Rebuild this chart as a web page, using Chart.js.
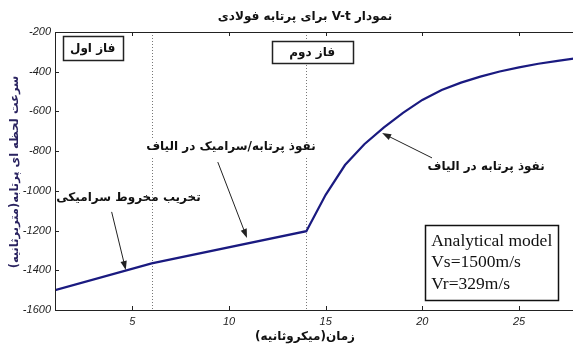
<!DOCTYPE html>
<html>
<head>
<meta charset="utf-8">
<script src="https://cdn.jsdelivr.net/npm/chart.js@4/dist/chart.umd.min.js"></script>
<style>
  html, body { margin: 0; padding: 0; background: #fff; overflow: hidden; }
  canvas { display: block; }
</style>
</head>
<body>
<canvas id="c" width="578" height="349"></canvas>
<script>
// Time (microseconds) and projectile velocity (m/s)
const times = [1, 6, 14, 15, 16, 17, 18, 19, 20, 21, 22, 23, 24, 25, 26, 27, 28];
const velocity = [-1500, -1365, -1203, -1020, -870, -765, -682, -607, -542, -492, -455, -425, -399, -378, -360, -345, -332];

const xTicks = [5, 10, 15, 20, 25];
const yTicks = [-1600, -1400, -1200, -1000, -800, -600, -400, -200];

// Phase boundaries (microseconds)
const phaseBounds = [6, 14];

const titleText = 'نمودار V-t برای پرتابه فولادی';
const xTitle = 'زمان(میکروثانیه)';
const yTitle = 'سرعت لحظه ای پرتابه(متربرثانیه)';

// Phase boxes: label, x range, y range (data units)
const phaseBoxes = [
  { text: 'فاز اول', x0: 1.4, x1: 4.5, y0: -220, y1: -340 },
  { text: 'فاز دوم', x0: 12.2, x1: 16.4, y0: -245, y1: -356 }
];

// Callouts: label position and arrow from -> to (data units)
const callouts = [
  { text: 'تخریب مخروط سرامیکی', tx: 4.8, ty: -1036, fx: 3.93, fy: -1106, ax: 4.66, ay: -1398, bg: false },
  { text: 'نفوذ پرتابه/سرامیک در الیاف', tx: 10.1, ty: -779, fx: 9.42, fy: -855, ax: 10.93, ay: -1237, bg: true },
  { text: 'نفوذ پرتابه در الیاف', tx: 23.3, ty: -880, fx: 20.5, fy: -834, ax: 17.92, ay: -709, bg: false }
];

const modelLines = ['Analytical model', 'Vs=1500m/s', 'Vr=329m/s'];
const modelBox = { x0: 20.15, x1: 27.05, y0: -1172, y1: -1549 };

const arabicFont = '"DejaVu Sans", sans-serif';

function arrow(ctx, x1, y1, x2, y2) {
  const ang = Math.atan2(y2 - y1, x2 - x1);
  const len = 9, w = 3.2;
  ctx.beginPath();
  ctx.moveTo(x1, y1);
  ctx.lineTo(x2 - Math.cos(ang) * len * 0.8, y2 - Math.sin(ang) * len * 0.8);
  ctx.stroke();
  ctx.beginPath();
  ctx.moveTo(x2, y2);
  ctx.lineTo(x2 - Math.cos(ang) * len + Math.sin(ang) * w, y2 - Math.sin(ang) * len - Math.cos(ang) * w);
  ctx.lineTo(x2 - Math.cos(ang) * len - Math.sin(ang) * w, y2 - Math.sin(ang) * len + Math.cos(ang) * w);
  ctx.closePath();
  ctx.fill();
}

const decor = {
  id: 'decor',
  beforeDatasetsDraw(chart) {
    const { ctx, chartArea: a, scales: { x } } = chart;
    ctx.save();
    ctx.strokeStyle = '#777';
    ctx.lineWidth = 1;
    ctx.setLineDash([1, 2]);
    phaseBounds.forEach(v => {
      const px = Math.round(x.getPixelForValue(v)) + 0.5;
      ctx.beginPath();
      ctx.moveTo(px, a.top);
      ctx.lineTo(px, a.bottom);
      ctx.stroke();
    });
    ctx.restore();
  },
  afterDraw(chart) {
    const { ctx, chartArea: a, scales: { x, y } } = chart;
    ctx.save();

    // frame
    ctx.strokeStyle = '#222';
    ctx.lineWidth = 1;
    ctx.strokeRect(a.left + 0.5, a.top + 0.5, a.right - a.left - 1, a.bottom - a.top);

    // inward tick marks on all four sides
    ctx.beginPath();
    const tl = 4;
    xTicks.forEach(v => {
      const px = Math.round(x.getPixelForValue(v)) + 0.5;
      ctx.moveTo(px, a.bottom); ctx.lineTo(px, a.bottom - tl);
      ctx.moveTo(px, a.top); ctx.lineTo(px, a.top + tl);
    });
    yTicks.forEach(v => {
      const py = Math.round(y.getPixelForValue(v)) + 0.5;
      ctx.moveTo(a.left, py); ctx.lineTo(a.left + tl, py);
      ctx.moveTo(a.right, py); ctx.lineTo(a.right - tl, py);
    });
    ctx.stroke();

    // title
    ctx.fillStyle = '#111';
    ctx.direction = 'rtl';
    ctx.textAlign = 'center';
    ctx.textBaseline = 'middle';
    ctx.font = 'bold 12px ' + arabicFont;
    ctx.fillText(titleText, 305, 17);

    // axis titles
    ctx.font = 'bold 12px ' + arabicFont;
    ctx.fillText(xTitle, 305, 337);
    ctx.save();
    ctx.translate(15, (a.top + a.bottom) / 2 + 1);
    ctx.rotate(-Math.PI / 2);
    ctx.fillStyle = '#2a2360';
    ctx.font = 'bold 11.5px ' + arabicFont;
    ctx.fillText(yTitle, 0, 0);
    ctx.restore();

    // phase boxes
    phaseBoxes.forEach(b => {
      const x0 = x.getPixelForValue(b.x0), x1 = x.getPixelForValue(b.x1);
      const y0 = y.getPixelForValue(b.y0), y1 = y.getPixelForValue(b.y1);
      ctx.fillStyle = '#fff';
      ctx.fillRect(x0, y0, x1 - x0, y1 - y0);
      ctx.strokeStyle = '#222';
      ctx.lineWidth = 1.5;
      ctx.strokeRect(Math.round(x0) + 0.5, Math.round(y0) + 0.5, Math.round(x1 - x0), Math.round(y1 - y0));
      ctx.fillStyle = '#111';
      ctx.font = 'bold 12px ' + arabicFont;
      ctx.fillText(b.text, (x0 + x1) / 2, (y0 + y1) / 2 + 1);
    });

    // callouts
    callouts.forEach(c => {
      const tx = x.getPixelForValue(c.tx), ty = y.getPixelForValue(c.ty);
      ctx.font = 'bold 12px ' + arabicFont;
      if (c.bg) {
        const w = ctx.measureText(c.text).width;
        ctx.fillStyle = '#fff';
        ctx.fillRect(tx - w / 2 - 2, ty - 9, w + 4, 18);
      }
      ctx.fillStyle = '#111';
      ctx.fillText(c.text, tx, ty);
      ctx.strokeStyle = '#222';
      ctx.fillStyle = '#222';
      ctx.lineWidth = 1;
      arrow(ctx, x.getPixelForValue(c.fx), y.getPixelForValue(c.fy),
                 x.getPixelForValue(c.ax), y.getPixelForValue(c.ay));
    });

    // model box
    const mx0 = x.getPixelForValue(modelBox.x0), mx1 = x.getPixelForValue(modelBox.x1);
    const my0 = y.getPixelForValue(modelBox.y0), my1 = y.getPixelForValue(modelBox.y1);
    ctx.fillStyle = '#fff';
    ctx.fillRect(mx0, my0, mx1 - mx0, my1 - my0);
    ctx.strokeStyle = '#111';
    ctx.lineWidth = 1.5;
    ctx.strokeRect(Math.round(mx0) + 0.5, Math.round(my0) + 0.5, Math.round(mx1 - mx0), Math.round(my1 - my0));
    ctx.direction = 'ltr';
    ctx.textAlign = 'left';
    ctx.fillStyle = '#111';
    ctx.font = '17.5px "Liberation Serif", "Times New Roman", serif';
    modelLines.forEach((t, i) => {
      ctx.fillText(t, mx0 + 6, my0 + 16 + i * 21.5);
    });

    ctx.restore();
  }
};

new Chart(document.getElementById('c'), {
  type: 'line',
  data: {
    labels: times,
    datasets: [{
      data: times.map((t, i) => ({ x: t, y: velocity[i] })),
      borderColor: '#1a1a80',
      borderWidth: 2.2,
      pointRadius: 0,
      tension: 0,
      fill: false
    }]
  },
  options: {
    responsive: false,
    animation: false,
    devicePixelRatio: 1,
    layout: { padding: { top: 32, right: 1, left: 0, bottom: 0 } },
    plugins: { legend: { display: false }, tooltip: { enabled: false }, title: { display: false } },
    scales: {
      x: {
        type: 'linear',
        min: 1,
        max: 28,
        afterBuildTicks: s => { s.ticks = xTicks.map(v => ({ value: v })); },
        afterFit: s => { s.height = 39; },
        grid: { display: false, drawTicks: false },
        border: { display: false },
        ticks: {
          padding: 5,
          color: '#222',
          callback: v => String(v),
          font: { family: '"Liberation Sans", Arial, sans-serif', size: 11, style: 'italic' },
          maxRotation: 0
        }
      },
      y: {
        type: 'linear',
        min: -1600,
        max: -200,
        afterBuildTicks: s => { s.ticks = yTicks.map(v => ({ value: v })); },
        afterFit: s => { s.width = 55; },
        grid: { display: false, drawTicks: false },
        border: { display: false },
        ticks: {
          padding: 4,
          color: '#222',
          callback: v => String(v),
          font: { family: '"Liberation Sans", Arial, sans-serif', size: 11, style: 'italic' }
        }
      }
    }
  },
  plugins: [decor]
});
</script>
</body>
</html>
